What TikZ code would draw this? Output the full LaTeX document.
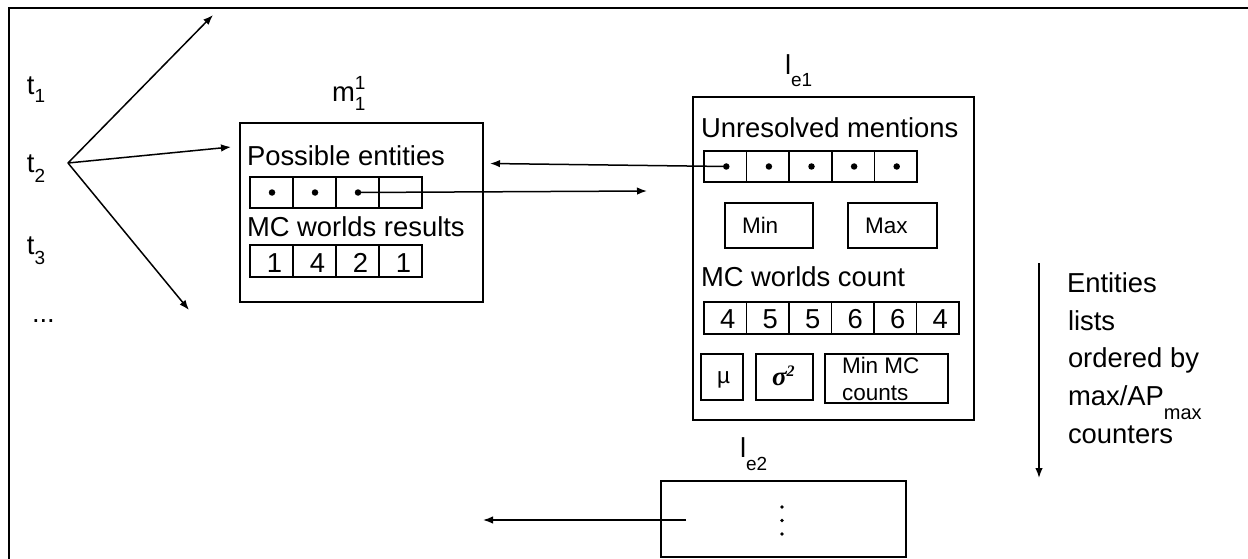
\documentclass[tikz,border=0pt]{standalone}
\usepackage{fontspec}
\setmainfont{Liberation Sans}
\newfontfamily\seriffont{Liberation Serif}
\usetikzlibrary{arrows.meta}

\newcommand{\lowsub}[2]{\raisebox{-#1}{\fontsize{19}{19}\selectfont #2}}

\begin{document}
\begin{tikzpicture}[x=1pt,y=-1pt,
  big/.style={font=\fontsize{27.4}{33}\selectfont},
  small/.style={font=\fontsize{22.5}{27}\selectfont},
  txt/.style={anchor=base west, inner sep=0pt, outer sep=0pt},
  num/.style={anchor=base, inner sep=0pt, outer sep=0pt, font=\fontsize{27.4}{33}\selectfont},
  box/.style={draw, line width=1.6pt, inner sep=0pt, outer sep=0pt, anchor=north west},
  cell/.style={draw, line width=1.6pt, inner sep=0pt, outer sep=0pt, minimum width=43, minimum height=31},
  arr/.style={-{Latex[length=10pt,width=7.5pt]}, line width=1.5pt},
  dot/.style={circle, fill, inner sep=0pt, outer sep=0pt, minimum size=6.5pt},
]
\useasboundingbox (0,0) rectangle (1248,559);

% outer frame (top and left edges)
\draw[line width=1.8pt] (9,559) -- (9,8) -- (1248,8);

% time labels
\node[txt,big] (t1) at (27,95)  {t\lowsub{8pt}{1}};
\node[txt,big] (t2) at (27,172) {t\lowsub{10pt}{2}};
\node[txt,big] (t3) at (27,254) {t\lowsub{10pt}{3}};
\node[txt,big] (tdots) at (32,322) {...};

% fan of arrows
\coordinate (fan) at (68,163);
\coordinate (f1) at (213,15);
\coordinate (f2) at (231,147);
\coordinate (f3) at (189,310);
\draw[arr] (fan) -- (f1);
\draw[arr] (fan) -- (f2);
\draw[arr] (fan) -- (f3);

% mention box m
\node[txt,big] (mlab) at (332,102) {m\rlap{\raisebox{12pt}{\fontsize{19}{19}\selectfont 1}}\raisebox{-9pt}{\fontsize{19}{19}\selectfont 1}};
\node[box, minimum width=243, minimum height=179] (mbox) at (240,123) {};
\node[txt,big] (pelab) at (247,165) {Possible entities};
\foreach \i in {1,...,4} {
  \node[cell] (pe\i) at ({250+43*(\i-0.5)},192.5) {};
}
\foreach \i in {1,...,3} {
  \node[dot] (pd\i) at ([xshift=0.5pt]pe\i.center) {};
}
\node[txt,big] (mrlab) at (247,236) {MC worlds results};
\foreach \i/\v in {1/1,2/4,3/2,4/1} {
  \node[cell, minimum height=32] (mr\i) at ({250+43*(\i-0.5)},261) {};
  \node[num] (mrv\i) at ({250+43*(\i-0.5)+3},272) {\v};
}

% entity list l_e1
\node[txt,big] (le1lab) at (785,75) {l\lowsub{12pt}{e1}};
\node[box, minimum width=281, minimum height=323] (le1) at (693,97) {};
\node[txt,big] (umlab) at (701,138) {Unresolved mentions};
\foreach \i in {1,...,5} {
  \node[cell, minimum width=42.6] (um\i) at ({704+42.6*(\i-0.5)},166.5) {};
  \node[dot] (md\i) at ([xshift=1pt]um\i.center) {};
}
\node[box, minimum width=88, minimum height=45] (minbox) at (725,203) {};
\node[txt,small] (minlab) at (742,233) {Min};
\node[box, minimum width=89, minimum height=45] (maxbox) at (848,203) {};
\node[txt,small] (maxlab) at (865,233) {Max};
\node[txt,big] (mclab) at (701,286) {MC worlds count};
\foreach \i/\v in {1/4,2/5,3/5,4/6,5/6,6/4} {
  \node[cell, minimum width=42.5, minimum height=32] (mc\i) at ({704+42.5*(\i-0.5)},318) {};
  \node[num] (mcv\i) at ({704+42.5*(\i-0.5)+2.5},328) {\v};
}
\node[box, minimum width=42, minimum height=46] (mubox) at (701,354) {};
\node[txt,small] (mulab) at (717,383) {µ};
\node[box, minimum width=57, minimum height=46] (sigbox) at (756,354) {};
\node[txt] (siglab) at (772,385) {\seriffont\bfseries\itshape\fontsize{27}{30}\selectfont σ\raisebox{9pt}{\fontsize{16}{16}\selectfont 2}};
\node[box, minimum width=123, minimum height=49] (mmcbox) at (825,354) {};
\node[txt,small] (mmc1) at (842,373) {Min MC};
\node[txt,small] (mmc2) at (842,400) {counts};

% entity list l_e2
\node[txt,big] (le2lab) at (740,457) {l\lowsub{13pt}{e2}};
\node[box, minimum width=245, minimum height=76] (le2) at (661,481) {};
\foreach \i/\y in {1/507,2/520.5,3/534} {
  \node[dot, minimum size=3.8pt] (vd\i) at (782,\y) {};
}

% links between mentions and entities
\coordinate (toent) at (647,191);
\draw[arr] (pd3.center) -- (toent);
\draw[arr] (md1.center) -- ([xshift=7pt,yshift=3pt]md1.center -| mbox.east);
\coordinate (le2src) at (686,520);
\coordinate (le2dst) at (483,520);
\draw[arr] (le2src) -- (le2dst);

% ordering arrow and note
\coordinate (ordtop) at (1039,263);
\coordinate (ordbot) at (1039,478);
\draw[arr] (ordtop) -- (ordbot);
\node[txt,big] (ord1) at (1067,292) {Entities};
\node[txt,big] (ord2) at (1068,330) {lists};
\node[txt,big] (ord3) at (1068,367) {ordered by};
\node[txt,big] (ord4) at (1068,405) {max/AP\raisebox{-14pt}{\fontsize{20}{20}\selectfont max}};
\node[txt,big] (ord5) at (1068,443) {counters};
\end{tikzpicture}
\end{document}
